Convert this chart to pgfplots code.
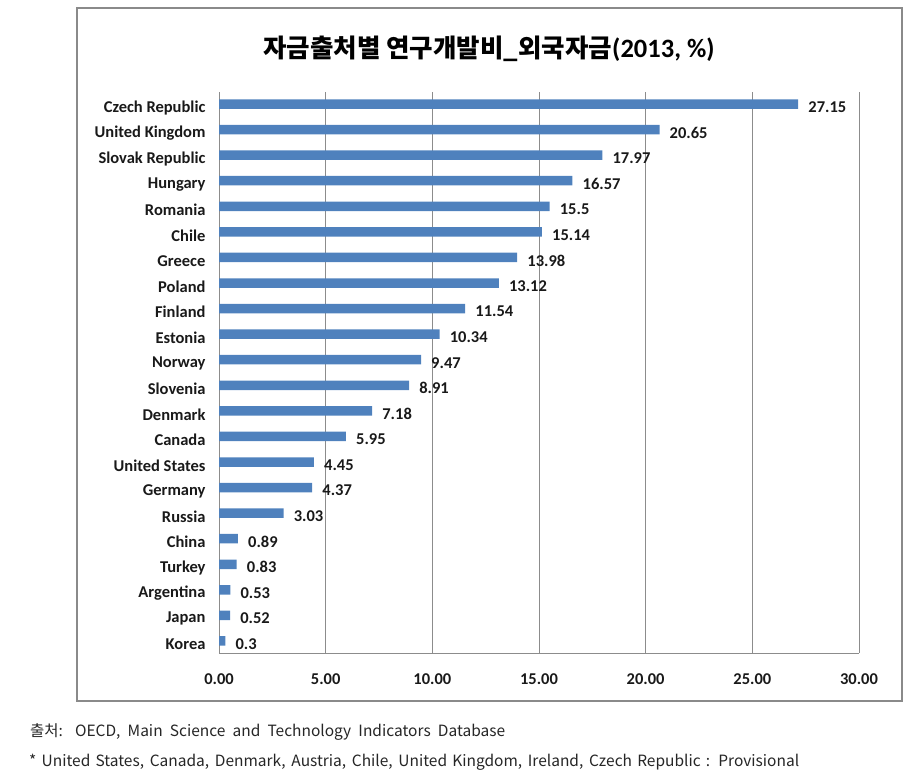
\documentclass[border=0pt]{standalone}
\usepackage{pgfplots}
\pgfplotsset{compat=1.18}
\usepackage{fontspec}
\setmainfont{Carlito}
\newfontfamily\kr{Noto Sans CJK KR}
\definecolor{barblue}{HTML}{4F81BD}
\definecolor{gridgray}{HTML}{8C8C8C}
\definecolor{frame}{HTML}{8A8A8A}
\begin{document}
\begin{tikzpicture}
\path (0,0) rectangle (923bp,-778bp);
\draw[frame, line width=1.6bp] (77bp,-8bp) rectangle (902bp,-701bp);
\node[font=\kr\bfseries\fontsize{25.5bp}{28bp}\selectfont] at (489bp,-49bp) {자금출처별 연구개발비\_외국자금{\rmfamily\bfseries\fontsize{26.5bp}{28bp}\selectfont(2013, \%)}};
\begin{axis}[
  at={(219bp,-653bp)}, anchor=south west,
  scale only axis, width=640bp, height=561bp,
  xbar, bar width=9.5bp,
  xmin=0, xmax=30, ymin=-0.47, ymax=21.47,
  axis x line*=bottom, axis y line*=left,
  axis line style={gridgray, line width=0.8bp},
  xtick={0,5,...,30},
  xticklabels={0.00,5.00,10.00,15.00,20.00,25.00,30.00},
  xmajorgrids, major grid style={gridgray, line width=0.8bp},
  ytick={0,...,21},
  yticklabels={Korea,Japan,Argentina,Turkey,China,Russia,Germany,United States,Canada,Denmark,Slovenia,Norway,Estonia,Finland,Poland,Greece,Chile,Romania,Hungary,Slovak Republic,United Kingdom,Czech Republic},
  major tick length=0pt,
  tick label style={font=\bfseries\fontsize{16.5bp}{18bp}\selectfont, text=black!90},
  xticklabel style={yshift=-17bp},
  yticklabel style={xshift=-10bp, yshift=-3.5bp},
  nodes near coords,
  point meta=explicit symbolic,
  nodes near coords style={font=\bfseries\fontsize{16.5bp}{18bp}\selectfont, anchor=west, inner sep=0pt, xshift=10bp, yshift=-3bp, text=black!90},
]
\addplot[fill=barblue, draw=none] coordinates {
(0.3,0) [0.3]
(0.52,1) [0.52]
(0.53,2) [0.53]
(0.83,3) [0.83]
(0.89,4) [0.89]
(3.03,5) [3.03]
(4.37,6) [4.37]
(4.45,7) [4.45]
(5.95,8) [5.95]
(7.18,9) [7.18]
(8.91,10) [8.91]
(9.47,11) [9.47]
(10.34,12) [10.34]
(11.54,13) [11.54]
(13.12,14) [13.12]
(13.98,15) [13.98]
(15.14,16) [15.14]
(15.5,17) [15.5]
(16.57,18) [16.57]
(17.97,19) [17.97]
(20.65,20) [20.65]
(27.15,21) [27.15]
};
\end{axis}
\node[anchor=west, inner sep=0pt, text=black!85, font=\kr\fontsize{15.5bp}{18bp}\selectfont] at (30bp,-732bp) {\makebox[475bp][s]{출처: OECD, Main Science and Technology Indicators Database}};
\node[anchor=west, inner sep=0pt, text=black!85, font=\kr\fontsize{15.5bp}{18bp}\selectfont] at (29bp,-762bp) {\makebox[770bp][s]{* United States, Canada, Denmark, Austria, Chile, United Kingdom, Ireland, Czech Republic : Provisional}};
\end{tikzpicture}
\end{document}
